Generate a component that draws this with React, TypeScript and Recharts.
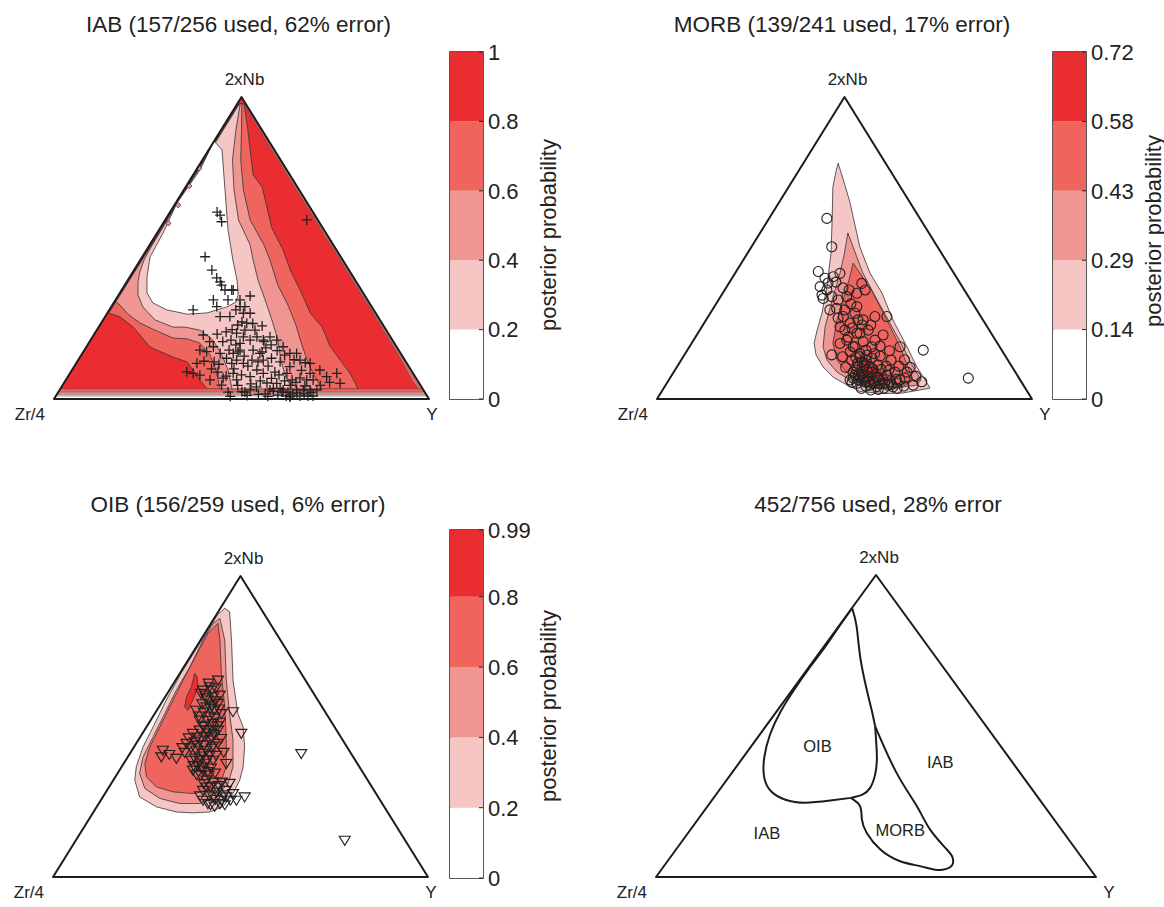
import React from 'react';
import { ScatterChart, Scatter, XAxis, YAxis, BarChart, Bar, ReferenceArea } from 'recharts';

const FONT = '"Liberation Sans", Arial, Helvetica, sans-serif';
const INK = '#222222';
const EDGE = '#1c1c1c';
const CONTOUR = '#333333';
const BAND = ['#FFFFFF', '#F5C6C4', '#F19592', '#EF645D', '#E92D30'];

// ---------------- data (u = position along Zr/4 -> Y base, v = 2xNb share, both in %) -------------
const triangleCorners = [[0, 0], [100, 0], [50, 100]];
const cornerNames = ['Zr/4', 'Y', '2xNb'];

const iabLevels = [0, 0.2, 0.4, 0.6, 0.8, 1];
const iabLevelLabels = ['0', '0.2', '0.4', '0.6', '0.8', '1'];
const morbLevels = [0, 0.144, 0.288, 0.432, 0.576, 0.72];
const morbLevelLabels = ['0', '0.14', '0.29', '0.43', '0.58', '0.72'];
const oibLevels = [0, 0.2, 0.4, 0.6, 0.8, 0.99];
const oibLevelLabels = ['0', '0.2', '0.4', '0.6', '0.8', '0.99'];

const panelTitles = [
  'IAB (157/256 used, 62% error)',
  'MORB (139/241 used, 17% error)',
  'OIB (156/259 used, 6% error)',
  '452/756 used, 28% error',
];

// IAB posterior probability contours (region below each level)
const iabBelow08 = [[50.7, 97.7], [51.7, 89.1], [52.3, 82.5], [53.1, 74.2], [55.5, 70.2], [58.1, 56.6], [61.1, 49.3], [63.2, 42.1], [65.9, 35.4], [68.3, 28.5], [71.5, 23.8], [73.6, 17.5], [76.3, 12.9], [78.9, 8.6], [81.1, 3.3], [40.8, 3.3], [38.9, 6.3], [35.5, 12.3], [31.7, 13.9], [25.6, 17.2], [21.1, 23.8], [17.6, 27.2], [14.6, 28.4], [20.4, 40], [30.4, 60], [40.4, 80], [47.9, 95], [49.3, 97.7]];
const iabBelow06 = [[50.1, 97.7], [50.0, 89.1], [49.8, 79.1], [50.5, 69.2], [52.3, 59.3], [56.0, 51.0], [57.6, 46.0], [59.7, 37.7], [62.4, 31.1], [64.5, 24.5], [66.1, 17.9], [67.5, 12.9], [69.3, 7.9], [71.5, 3.3], [44.3, 3.3], [43.2, 9.6], [41.6, 14.6], [38.9, 18.5], [35.5, 19.9], [31.7, 20.2], [26.9, 22.8], [22.9, 25.2], [19.7, 28.1], [17.6, 31.1], [16.5, 32.2], [25.5, 50], [35.5, 70], [45.5, 90], [49.4, 97.7]];
const iabBelow04 = [[49.6, 97.4], [48.5, 89.1], [47.6, 79.1], [48.0, 69.2], [49.2, 59.3], [52.3, 51.0], [53.1, 46.0], [54.4, 39.4], [56.3, 32.8], [58.1, 26.2], [59.7, 19.5], [60.5, 12.9], [61.6, 7.9], [63.5, 3.3], [47.5, 3.3], [46.4, 9.6], [44.8, 14.6], [42.4, 19.5], [38.9, 22.8], [34.9, 23.8], [31.7, 23.8], [26.9, 26.2], [23.7, 30.5], [22.4, 34.4], [22.4, 38.7], [22.9, 42.1], [24.0, 46.0], [25.6, 49.7], [30.6, 60], [40.6, 80], [49.3, 97.4]];
const iabBelow02 = [[42.7, 85.4], [44.8, 82.5], [45.6, 69.2], [46.4, 56.0], [47.7, 46.0], [48.8, 39.4], [49.1, 34.4], [48.5, 32.1], [46.1, 30.5], [40.8, 28.5], [35.5, 28.1], [30.1, 29.5], [26.4, 31.8], [24.8, 35.1], [24.8, 40.4], [25.6, 47.0], [29.1, 55.0], [32.8, 64.9], [38.9, 75.8]];
const iabRightRim06 = [[51.5, 97], [98.35, 3.3], [97.2, 3.3], [95.6, 6], [93.0, 12], [90.2, 18], [87.2, 24], [84.4, 30], [81.2, 36], [78.3, 42], [75.3, 48], [72.2, 54], [69.3, 60], [66.3, 66], [63.2, 72], [60.3, 78], [57.3, 84], [54.4, 90], [51.2, 96.5]];
const iabRightRim04 = [[51.5, 97], [98.4, 3.3], [97.9, 3.3], [51.25, 97]];
const iabBaseRim08 = [[0, 0], [100, 0], [98.35, 3.3], [1.65, 3.3]];
const iabBaseRim06 = [[0, 0], [100, 0], [98.85, 2.3], [1.15, 2.3]];
const iabBaseRim04 = [[0, 0], [100, 0], [99.2, 1.6], [0.8, 1.6]];
const iabBaseRim02 = [[0, 0], [100, 0], [99.5, 1.0], [0.5, 1.0]];
const iabEdgeSpecks = [
  [[38.7, 77.3], [39.4, 76.4], [38.7, 75.5], [38.0, 76.4]],
  [[36.1, 71.4], [36.8, 70.5], [36.1, 69.6], [35.4, 70.5]],
  [[33.1, 65.1], [33.8, 64.2], [33.1, 63.3], [32.4, 64.2]],
  [[30.5, 59.1], [31.2, 58.2], [30.5, 57.3], [29.8, 58.2]],
];
const iabSamples = [
  [44.3, 60.9], [44.7, 58.7], [43.5, 61.9], [40.3, 47.1], [42.1, 42.7], [43.4, 40.1], [44.3, 38.8], [44.7, 37.7], [45.6, 36.1], [47.4, 36.1],
  [42.5, 32.8], [43.4, 30.6], [37.1, 29.5], [44.3, 27.3], [46.9, 27.3], [49.6, 30.6], [50.5, 28.4], [39.8, 21.2], [38.9, 16.2], [40.7, 15.7],
  [42.5, 17.3], [44.3, 15.1], [38.1, 11.8], [35.4, 9.0], [37.1, 8.5], [38.9, 7.9], [41.6, 6.3], [44.7, 4.6], [45.1, 6.9], [48.7, 12.9],
  [49.6, 18.4], [50.5, 20.6], [47.8, 15.1], [50.1, 2.4], [47.4, 11.8], [47.8, 36.1], [49.6, 32.8], [50.9, 30.6], [52.3, 28.4], [51.4, 25.1],
  [48.7, 21.8], [52.3, 19.5], [54.1, 20.6], [55.8, 19.5], [57.6, 20.6], [59.4, 19.5], [61.1, 17.3], [62.9, 15.1], [64.7, 15.1], [65.6, 12.9],
  [68.3, 11.8], [70.9, 9.6], [72.7, 7.4], [75.4, 8.5], [76.3, 5.2], [68.3, 8.5], [69.1, 6.3], [67.4, 6.3], [64.7, 3.0], [60.3, 3.5],
  [58.5, 3.5], [59.4, 5.2], [57.6, 3.0], [61.1, 3.0], [66.5, 3.0], [68.3, 3.0], [70.1, 3.0], [55.8, 12.9], [54.9, 15.1], [53.1, 16.2],
  [49.6, 16.2], [50.5, 11.8], [54.1, 9.6], [55.8, 8.5], [52.3, 7.4], [48.7, 6.3], [47.8, 8.5], [62.9, 10.7], [62.1, 8.5], [67.4, 59.3],
  [48.5, 17.9], [49.1, 15.6], [50.7, 14.2], [51.7, 10.9], [52.8, 12.9], [54.4, 12.3], [55.5, 15.6], [56.5, 16.9], [57.9, 17.9], [53.6, 22.8],
  [55.5, 24.2], [50.9, 22.8], [52.3, 34.1], [46.4, 32.8], [48.5, 29.5], [50.1, 25.5], [45.9, 22.2], [47.2, 19.5], [46.7, 16.2], [42.7, 12.3],
  [43.7, 8.9], [45.9, 7.6], [60.3, 12.3], [57.1, 10.9], [58.9, 8.9], [63.5, 6.3], [65.6, 7.0], [66.9, 4.3], [62.4, 2.3], [63.7, 1.7],
  [61.9, 1.0], [62.9, 0.7], [65.6, 1.0], [67.7, 1.0], [69.1, 1.0], [50.9, 2.3], [52.3, 3.0], [46.4, 2.3], [56.3, 1.7], [59.7, 1.3],
  [60.8, 2.3], [64.8, 2.0], [66.7, 1.7],
  [52.5, 5.0], [54.0, 4.0], [55.0, 6.0], [56.8, 5.3], [58.0, 6.8], [60.0, 8.0], [61.5, 6.0], [63.0, 4.5], [64.5, 5.5], [66.0, 9.5],
  [67.0, 12.0], [64.0, 13.0], [61.5, 14.5], [59.5, 16.0], [58.0, 13.5], [56.0, 19.0], [53.0, 25.0], [49.0, 24.5], [47.5, 23.0], [45.0, 19.0],
  [43.5, 21.5], [41.5, 19.0], [40.0, 12.5], [42.0, 10.0], [44.0, 11.5], [46.0, 13.5], [48.0, 10.0], [50.0, 8.0], [49.0, 4.5], [51.5, 1.2],
  [54.5, 1.5], [57.0, 0.9], [58.5, 2.5], [63.0, 1.0], [68.5, 2.2], [71.0, 4.5], [73.5, 5.5], [47.0, 0.9],
];

// MORB contours
const morbBelowTop = [[48.3, 78.1], [50.1, 70.9], [51.5, 64.9], [52.3, 60.3], [54.1, 50.3], [56.8, 41.7], [60.0, 35.1], [62.9, 26.2], [66.7, 17.2], [69.3, 10.6], [71.5, 6.3], [72.8, 3.6], [65.6, 2.0], [60.3, 1.8], [54.1, 2.5], [50.7, 4.6], [46.9, 7.3], [44.3, 10.6], [42.4, 14.6], [41.9, 18.5], [42.7, 22.8], [44.0, 28.5], [45.3, 37.1], [46.4, 48.3], [46.7, 59.3], [46.9, 70.2], [47.7, 75.2]];
const morbAbove029 = [[50.9, 55.0], [52.3, 50.3], [54.9, 41.7], [58.7, 32.8], [62.1, 25.2], [65.6, 17.2], [68.3, 10.6], [70.4, 6.3], [69.3, 4.6], [62.9, 3.6], [56.8, 3.6], [54.1, 4.6], [51.5, 6.3], [48.0, 8.9], [45.3, 12.9], [44.3, 17.2], [44.8, 23.8], [46.7, 32.8], [48.8, 41.7], [49.9, 47.7]];
const morbAbove043 = [[52.3, 45.0], [54.1, 41.7], [57.6, 35.1], [61.3, 26.2], [64.8, 17.2], [66.7, 11.3], [68.3, 6.3], [65.6, 4.1], [56.8, 3.6], [54.1, 5.3], [50.7, 8.6], [48.0, 12.9], [46.9, 18.5], [48.0, 26.2], [49.6, 32.8], [51.2, 39.4]];
const morbAbove058 = [[54.7, 13.6], [57.3, 12.3], [60.0, 8.9], [61.1, 6.0], [57.3, 5.0], [54.1, 6.3], [52.8, 9.6]];
const morbSamples = [
  [45.3, 59.8], [46.6, 50.4], [43.0, 42.2], [44.8, 40.0], [47.0, 40.5], [48.8, 41.6], [43.5, 37.2], [45.3, 36.1], [44.3, 33.3], [46.6, 33.9],
  [48.3, 32.8], [50.6, 33.9], [53.3, 35.0], [47.9, 30.0], [49.7, 27.3], [51.5, 25.1], [48.8, 23.9], [53.3, 21.8], [50.6, 19.5], [52.8, 17.3],
  [54.1, 15.1], [48.8, 18.4], [46.6, 14.6], [51.9, 12.9], [53.3, 10.7], [53.7, 7.9], [52.3, 6.9], [54.6, 38.3], [55.5, 36.1], [53.3, 30.6],
  [52.8, 28.4], [55.0, 26.2], [58.1, 27.3], [61.3, 27.3], [60.3, 21.2], [64.8, 17.3], [71.0, 16.2], [83.0, 6.9], [57.3, 17.3], [54.1, 21.8],
  [52.3, 17.3], [54.1, 14.0], [56.8, 10.7], [53.3, 9.6], [55.0, 7.4], [58.6, 7.4], [60.3, 6.3], [62.1, 5.7], [64.8, 6.3], [68.3, 4.6],
  [70.6, 5.7], [51.5, 6.3], [53.3, 5.2], [56.8, 4.6], [58.6, 4.1], [50.1, 29.5], [54.7, 24.5], [56.3, 22.8], [58.1, 19.5], [55.7, 16.2],
  [59.5, 14.2], [61.1, 10.9], [63.5, 8.9], [66.1, 7.0], [64.0, 5.3], [61.6, 4.6], [55.5, 5.6], [57.3, 8.9], [58.9, 11.3], [57.3, 13.6],
  [54.7, 12.3], [56.0, 7.0], [59.5, 5.0], [57.9, 6.0], [54.1, 7.0], [56.3, 8.9], [55.2, 10.9], [51.5, 15.6], [50.1, 22.8], [48.3, 26.8],
  [51.7, 31.5], [49.6, 36.8], [47.7, 38.7], [45.6, 38.4], [44.0, 34.4], [46.1, 29.5], [51.2, 36.1], [53.6, 26.2], [62.4, 12.9], [64.5, 10.9],
  [66.7, 8.9], [52.3, 8.9], [55.7, 4.3], [60.5, 3.6], [62.9, 4.0], [58.9, 7.0], [61.3, 7.9],
  [52.0, 5.5], [53.8, 6.2], [55.2, 6.3], [56.5, 5.8], [57.8, 5.3], [59.2, 6.2], [60.7, 5.3], [62.5, 4.8], [63.8, 6.5], [52.8, 7.9],
  [54.5, 8.3], [56.0, 9.5], [57.5, 10.0], [59.8, 9.8], [61.8, 9.5], [53.5, 11.8], [55.8, 12.8], [58.0, 15.0], [56.0, 14.5], [53.0, 13.8],
  [50.3, 10.5], [49.5, 14.0], [51.0, 20.5], [52.0, 23.5], [55.0, 19.0], [57.0, 24.5], [59.5, 17.5], [62.0, 16.0], [66.0, 13.0], [67.5, 10.5],
  [69.0, 7.5], [54.5, 3.5], [57.0, 3.0], [59.0, 3.2], [64.0, 3.5], [65.8, 4.3],
];

// OIB contours
const oibAbove02 = [[45.8, 89.3], [47.1, 88.1], [47.6, 78.7], [48.0, 65.4], [49.3, 54.3], [50.7, 49.9], [51.1, 43.2], [50.7, 36.6], [49.8, 32.2], [48.0, 27.7], [45.3, 23.3], [41.8, 21.6], [37.3, 21.3], [32.9, 21.6], [27.6, 23.3], [23.1, 26.6], [21.8, 32.2], [22.2, 36.6], [24.0, 43.2], [26.7, 49.9], [30.2, 58.8], [34.1, 67.6], [38.0, 75.4], [41.85, 83.1], [43.8, 87.0]];
const oibAbove04 = [[44.5, 85.9], [45.8, 78.7], [46.2, 65.4], [47.1, 54.3], [48.0, 45.5], [48.0, 36.6], [46.7, 31.1], [43.6, 26.6], [39.1, 24.4], [33.8, 24.4], [28.5, 26.1], [24.5, 29.4], [23.1, 34.4], [24.0, 39.9], [26.7, 46.6], [29.8, 54.3], [32.9, 62.1], [36.5, 69.8], [40.0, 78.7], [42.7, 84.3]];
const oibAbove06 = [[44.0, 84.3], [44.5, 78.7], [44.9, 67.6], [45.8, 56.5], [46.2, 45.5], [46.2, 36.6], [44.9, 32.2], [41.8, 28.8], [37.3, 27.7], [32.0, 28.3], [27.6, 29.9], [24.9, 33.3], [24.5, 37.7], [25.8, 43.2], [28.5, 49.9], [31.6, 57.7], [34.7, 65.4], [38.2, 73.7], [41.3, 80.9]];
const oibAbove08 = [[37.8, 67.6], [38.4, 66.5], [38.7, 63.2], [37.3, 58.8], [36.0, 55.4], [35.1, 56.5], [35.6, 59.9], [36.9, 63.2]];
const oibSamples = [
  [44.0, 65.4], [41.8, 63.2], [40.0, 62.1], [42.7, 59.9], [44.0, 57.7], [40.9, 56.5], [48.0, 54.9], [38.2, 55.4], [44.9, 54.3], [39.1, 52.1],
  [42.7, 51.0], [40.9, 48.8], [44.0, 48.8], [50.2, 47.7], [37.3, 47.7], [39.1, 45.5], [41.8, 45.5], [35.6, 44.4], [38.2, 42.1], [40.9, 42.1],
  [29.3, 42.1], [28.9, 39.9], [32.9, 39.4], [36.9, 38.8], [39.1, 38.8], [42.7, 38.8], [46.2, 37.7], [37.3, 35.5], [40.0, 35.5], [40.9, 32.2],
  [43.6, 29.9], [47.1, 31.1], [40.0, 28.8], [42.7, 26.6], [40.0, 25.5], [41.3, 24.4], [44.5, 24.4], [48.0, 27.7], [51.1, 26.6], [48.9, 25.5],
  [46.2, 26.6], [44.9, 25.5], [66.2, 41.0], [77.8, 12.2], [40.5, 60.4], [41.3, 58.8], [42.3, 57.1], [40.2, 54.8], [41.8, 53.4], [43.1, 52.8],
  [39.9, 50.4], [41.3, 47.8], [42.3, 46.5], [38.6, 43.8], [39.9, 41.1], [41.8, 40.5], [40.7, 37.8], [42.1, 36.2], [38.6, 37.1], [39.4, 33.8],
  [41.5, 33.8], [42.9, 31.5], [41.0, 29.9], [42.3, 62.1], [43.4, 62.8], [44.5, 60.4], [41.5, 64.4], [43.0, 55.4], [44.5, 51.4], [39.1, 48.8],
  [37.8, 39.5], [35.1, 41.4], [45.0, 31.5], [43.7, 28.2], [42.3, 42.8], [43.9, 44.4], [45.5, 41.4], [46.1, 28.8], [43.1, 23.5],
  [39.5, 61.0], [40.8, 59.5], [43.3, 58.5], [39.8, 57.5], [42.0, 56.0], [44.3, 55.8], [38.9, 53.5], [41.2, 52.0], [43.8, 50.2], [40.2, 50.0],
  [42.6, 49.0], [38.5, 46.5], [40.5, 46.8], [43.0, 47.3], [44.8, 46.0], [37.8, 44.9], [40.3, 43.9], [42.7, 43.5], [36.8, 42.9], [39.2, 40.2],
  [41.0, 39.0], [43.5, 40.4], [37.5, 37.0], [39.8, 36.5], [41.3, 35.0], [43.2, 34.5], [38.3, 34.0], [40.2, 31.0], [42.0, 30.0], [44.2, 30.4],
  [39.2, 27.0], [41.6, 27.2], [43.3, 25.8], [45.5, 27.3], [47.3, 25.5], [42.0, 24.0], [45.8, 24.0], [36.2, 46.2], [34.5, 43.0], [31.0, 40.7],
];

// Combined decision boundaries
const boundaryOibLeft = [[44.6, 89.0], [41.4, 82.5], [38.3, 75.9], [34.9, 69.3], [31.4, 62.0], [28.3, 54.7], [25.9, 47.1], [24.6, 39.5], [24.6, 32.9], [26.2, 28.3], [29.4, 25.6], [33.9, 24.6], [39.6, 25.3], [44.3, 26.2]];
const boundaryOibIab = [[44.6, 89.0], [45.6, 82.9], [46.4, 73.0], [47.9, 62.0], [49.1, 54.7], [49.8, 49.9]];
const boundaryOibMorb = [[49.8, 49.9], [50.2, 39.9], [49.8, 33.9], [48.7, 29.6], [46.9, 27.3], [44.3, 26.2]];
const boundaryMorbIab = [[49.8, 49.9], [54.7, 34.4], [59.3, 23.4], [62.3, 15.7], [66.1, 9.1], [67.4, 6.5], [67.4, 4.2], [66.0, 2.7], [63.5, 2.4], [60.0, 3.6], [55.5, 5.2], [51.0, 9.1], [47.9, 14.6], [46.8, 19.0], [46.4, 23.4], [44.9, 25.6], [44.3, 26.2]];
const regionNames = ['OIB', 'IAB', 'MORB', 'IAB'];
const regionSpots = [[36.7, 43.3], [25.2, 14.5], [55.5, 15.7], [64.6, 38.0]];

// ---------------- helpers ----------------
const toPts = (arr: number[][]) => arr.map(([u, v]) => ({ u, v }));
const cornerData = triangleCorners.map(([u, v], i) => ({ u, v, name: cornerNames[i] }));
const regionData = regionSpots.map(([u, v], i) => ({ u, v, name: regionNames[i] }));

const Hidden = () => <g />;

const polyLine = (fill: string, stroke: string = CONTOUR, width = 0.8) => (p: any) => {
  const pts = p.points || [];
  if (pts.length < 2) return <g />;
  const d = 'M' + pts.map((q: any) => `${q.x.toFixed(2)},${q.y.toFixed(2)}`).join('L') + 'Z';
  return <path d={d} fill={fill} stroke={stroke} strokeWidth={width} strokeLinejoin="round" />;
};

const CrossMark = (p: any) => (
  <path d={`M${p.cx - 5},${p.cy}H${p.cx + 5}M${p.cx},${p.cy - 5}V${p.cy + 5}`} stroke={INK} strokeWidth={1.3} fill="none" />
);
const CircleMark = (p: any) => <circle cx={p.cx} cy={p.cy} r={5} stroke={INK} strokeWidth={1.1} fill="none" />;
const TriMark = (p: any) => (
  <path d={`M${p.cx - 5.5},${p.cy - 4}L${p.cx + 5.5},${p.cy - 4}L${p.cx},${p.cy + 5}Z`} stroke={INK} strokeWidth={1.15} fill="none" strokeLinejoin="miter" />
);

const cornerLabel = (yShift: number) => (p: any) => {
  const name = p.payload && p.payload.name;
  let x = p.cx;
  let y = p.cy;
  let anchor: any = 'middle';
  if (name === 'Zr/4') { x -= 9; y += 21; anchor = 'end'; }
  else if (name === 'Y') { x += yShift; y += 21; }
  else { x += 3; y -= 12; }
  return <text x={x} y={y} textAnchor={anchor} fontSize={17} fontFamily={FONT} fill={INK}>{name}</text>;
};

const RegionLabel = (p: any) => (
  <text x={p.cx} y={p.cy} textAnchor="middle" dominantBaseline="central" fontSize={16.5} fontFamily={FONT} fill={INK}>
    {p.payload && p.payload.name}
  </text>
);

function Ternary({ left, top, width, height, margin, children }: any) {
  return (
    <div style={{ position: 'absolute', left, top }}>
      <ScatterChart width={width} height={height} margin={margin}>
        <XAxis type="number" dataKey="u" domain={[0, 100]} hide />
        <YAxis type="number" dataKey="v" domain={[0, 100]} hide />
        {children}
      </ScatterChart>
    </div>
  );
}

const area = (key: string, data: number[][], fill: string, stroke: string = CONTOUR, w = 0.8) => (
  <Scatter key={key} data={toPts(data)} line={polyLine(fill, stroke, w)} shape={Hidden} isAnimationActive={false} />
);

const frame = (yShift: number) => [
  area('frame', triangleCorners, 'none', EDGE, 2),
  <Scatter key="corners" data={cornerData} shape={cornerLabel(yShift)} isAnimationActive={false} />,
];

function ColorBar({ left, top, width, height, margin, axisWidth, levels, labels }: any) {
  const row: any = { name: 'cb' };
  for (let i = 0; i < 5; i++) row['s' + i] = levels[i + 1] - levels[i];
  const max = levels[5];
  return (
    <div style={{ position: 'absolute', left, top }}>
      <BarChart width={width} height={height} data={[row]} margin={margin} barCategoryGap={0} barGap={0}>
        <XAxis dataKey="name" hide />
        <YAxis
          orientation="right"
          type="number"
          domain={[0, max]}
          ticks={levels}
          interval={0}
          allowDataOverflow
          width={axisWidth}
          axisLine={false}
          tickSize={-4}
          tickMargin={9}
          tickLine={{ stroke: INK, strokeWidth: 1 }}
          tickFormatter={(v: number) => {
            const i = levels.findIndex((l: number) => Math.abs(l - v) < 1e-6);
            return i >= 0 ? labels[i] : '';
          }}
          tick={{ fontSize: 22, fill: INK, fontFamily: FONT }}
        />
        <YAxis
          yAxisId="inner-left"
          orientation="left"
          type="number"
          domain={[0, max]}
          ticks={levels}
          interval={0}
          allowDataOverflow
          width={0}
          axisLine={false}
          tickSize={-4}
          tickLine={{ stroke: INK, strokeWidth: 1 }}
          tickFormatter={() => ''}
        />
        {[0, 1, 2, 3, 4].map((i) => (
          <Bar key={i} dataKey={'s' + i} stackId="cb" fill={BAND[i]} isAnimationActive={false} />
        ))}
        <ReferenceArea y1={0} y2={max} fill="none" stroke={INK} strokeWidth={1.5} ifOverflow="visible" />
      </BarChart>
    </div>
  );
}

export default function App() {
  return (
    <div style={{ position: 'absolute', left: 0, top: 0, width: 1164, height: 907, background: '#fff', overflow: 'hidden' }}>
      {/* Panel 1: IAB */}
      <Ternary left={0} top={55} width={445} height={380} margin={{ left: 54, top: 42, right: 16, bottom: 36 }}>
        {area('iab-all', triangleCorners, BAND[4], 'none', 0)}
        {area('iab-08', iabBelow08, BAND[3])}
        {area('iab-06', iabBelow06, BAND[2])}
        {area('iab-04', iabBelow04, BAND[1])}
        {area('iab-02', iabBelow02, BAND[0])}
        {area('iab-rr6', iabRightRim06, BAND[3], '#555', 0.6)}
        {area('iab-rr4', iabRightRim04, BAND[1], '#555', 0.5)}
        {area('iab-br8', iabBaseRim08, BAND[3], '#555', 0.5)}
        {area('iab-br6', iabBaseRim06, BAND[2], '#555', 0.5)}
        {area('iab-br4', iabBaseRim04, BAND[1], '#555', 0.5)}
        {area('iab-br2', iabBaseRim02, BAND[0], '#555', 0.5)}
        {iabEdgeSpecks.map((s, i) => area('iab-sp' + i, s, BAND[2]))}
        <Scatter data={toPts(iabSamples)} shape={CrossMark} isAnimationActive={false} />
        {frame(3)}
      </Ternary>

      {/* Panel 2: MORB */}
      <Ternary left={600} top={55} width={450} height={380} margin={{ left: 57, top: 42, right: 18, bottom: 36 }}>
        {area('m-14', morbBelowTop, BAND[1])}
        {area('m-29', morbAbove029, BAND[2])}
        {area('m-43', morbAbove043, BAND[3])}
        {area('m-58', morbAbove058, BAND[4])}
        <Scatter data={toPts(morbSamples)} shape={CircleMark} isAnimationActive={false} />
        {frame(13)}
      </Ternary>

      {/* Panel 3: OIB */}
      <Ternary left={0} top={535} width={445} height={372} margin={{ left: 53, top: 41, right: 17, bottom: 30 }}>
        {area('o-2', oibAbove02, BAND[1])}
        {area('o-4', oibAbove04, BAND[2])}
        {area('o-6', oibAbove06, BAND[3])}
        {area('o-8', oibAbove08, BAND[4])}
        <Scatter data={toPts(oibSamples)} shape={TriMark} isAnimationActive={false} />
        {frame(3)}
      </Ternary>

      {/* Panel 4: decision boundaries */}
      <Ternary left={600} top={535} width={564} height={372} margin={{ left: 56, top: 40, right: 68, bottom: 30 }}>
        {[boundaryOibLeft, boundaryOibIab, boundaryOibMorb, boundaryMorbIab].map((b, i) => (
          <Scatter
            key={'b' + i}
            data={toPts(b)}
            line={{ stroke: EDGE, strokeWidth: 2 }}
            lineJointType="natural"
            shape={Hidden}
            isAnimationActive={false}
          />
        ))}
        <Scatter data={regionData} shape={RegionLabel} isAnimationActive={false} />
        {frame(13)}
      </Ternary>

      <ColorBar left={440} top={30} width={140} height={390} margin={{ top: 22, right: 7, bottom: 21, left: 10 }} axisWidth={90} levels={iabLevels} labels={iabLevelLabels} />
      <ColorBar left={1043} top={30} width={121} height={390} margin={{ top: 22, right: 0, bottom: 21, left: 10 }} axisWidth={78} levels={morbLevels} labels={morbLevelLabels} />
      <ColorBar left={440} top={510} width={140} height={390} margin={{ top: 20, right: 7, bottom: 22, left: 10 }} axisWidth={90} levels={oibLevels} labels={oibLevelLabels} />

      <svg width={1164} height={907} style={{ position: 'absolute', left: 0, top: 0, pointerEvents: 'none' }}>
        <g fontFamily={FONT} fill={INK}>
          <text x={238.5} y={32} textAnchor="middle" fontSize={22.5}>{panelTitles[0]}</text>
          <text x={842} y={32} textAnchor="middle" fontSize={22.5}>{panelTitles[1]}</text>
          <text x={238} y={512} textAnchor="middle" fontSize={22.5}>{panelTitles[2]}</text>
          <text x={878} y={512} textAnchor="middle" fontSize={22.5}>{panelTitles[3]}</text>
          <text x={548.5} y={235} textAnchor="middle" dominantBaseline="central" fontSize={22} transform="rotate(-90 548.5 235)">posterior probability</text>
          <text x={1153} y={231} textAnchor="middle" dominantBaseline="central" fontSize={22} transform="rotate(-90 1153 231)">posterior probability</text>
          <text x={548.5} y={706} textAnchor="middle" dominantBaseline="central" fontSize={22} transform="rotate(-90 548.5 706)">posterior probability</text>
        </g>
      </svg>
    </div>
  );
}
